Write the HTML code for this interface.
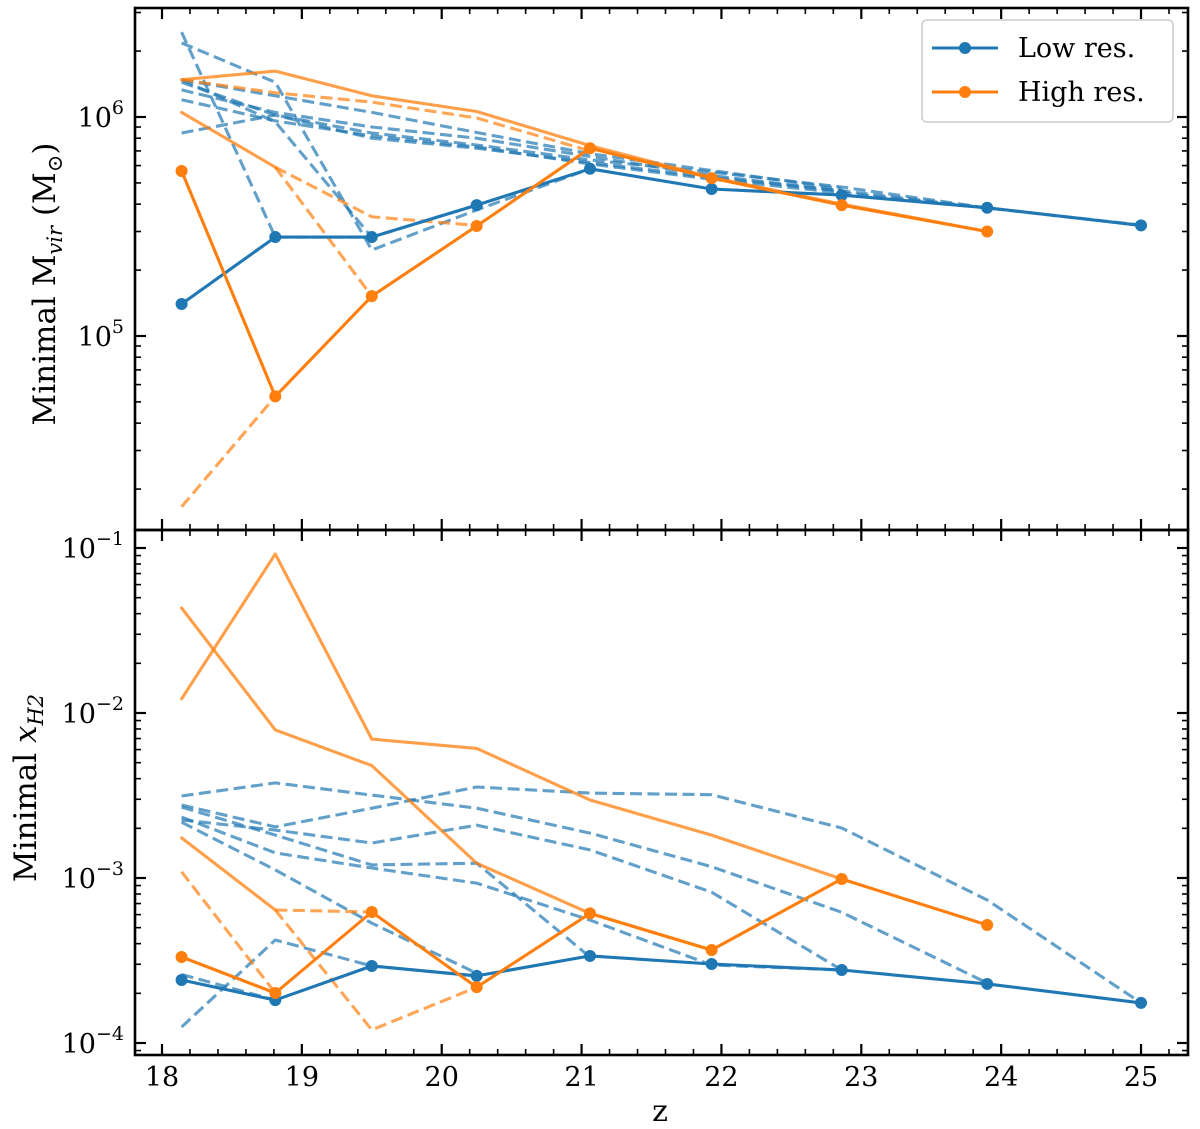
<!DOCTYPE html>
<html><head><meta charset="utf-8"><style>
html,body{margin:0;padding:0;background:#fff;}
svg{display:block;}
text{font-family:"DejaVu Serif","Liberation Serif",serif;fill:#000;}
</style></head><body>
<svg id="chart" width="1200" height="1129" viewBox="0 0 1200 1129" xmlns="http://www.w3.org/2000/svg">
<g id="grid"></g>
</svg>
<script>
// ---- data ----
const zVals = [18.14, 18.81, 19.5, 20.25, 21.06, 21.93, 22.86, 23.9, 25.0];
const xTicks = [18, 19, 20, 21, 22, 23, 24, 25];
// top panel: minimal Mvir
const lowResMvir = [1.4e5, 2.83e5, 2.83e5, 3.96e5, 5.8e5, 4.69e5, 4.4e5, 3.85e5, 3.2e5];
const highResMvir = [5.67e5, 5.3e4, 1.52e5, 3.18e5, 7.2e5, 5.26e5, 3.96e5, 3.0e5];
const lowDashMvir1 = [2.44e6, 2.83e5, 2.83e5, 3.96e5];
const lowDashMvir2 = [2.18e6, 1.44e6, 2.47e5, 3.76e5, 5.8e5];
const lowDashMvir3 = [1.48e6, 9.5e5, 2.83e5];
const lowDashMvir4 = [1.44e6, 1.02e6, 8.45e5, 7.45e5, 6.36e5, 5.6e5, 4.79e5, 3.84e5, 3.21e5];
const lowDashMvir5 = [1.33e6, 1.05e6, 9.0e5, 8.0e5, 6.6e5, 5.4e5, 4.6e5, 3.84e5];
const lowDashMvir6 = [1.2e6, 9.6e5, 8.2e5, 7.3e5, 6.1e5, 5.2e5, 4.5e5, 3.84e5];
const lowDashMvir7 = [8.45e5, 1.02e6, 8.0e5, 7.2e5, 6.2e5, 5.3e5, 4.6e5];
const lowDashMvir8 = [1.48e6, 1.25e6, 1.05e6, 8.5e5, 6.8e5, 5.7e5, 4.7e5];
const highFaintMvir1 = [1.48e6, 1.62e6, 1.25e6, 1.06e6, 7.4e5, 5.3e5, 4.0e5, 3.0e5];
const highDashMvir2 = [1.48e6, 1.29e6, 1.17e6, 9.9e5, 7.0e5];
const highFaintMvir3 = [1.05e6, 5.9e5];
const highDashMvir4 = [5.9e5, 3.5e5, 3.2e5];     // starts at index 1
const highDashMvir5 = [5.9e5, 1.52e5];           // starts at index 1
const highDashMvir6 = [1.66e4, 5.3e4];
// bottom panel: minimal xH2
const lowResXH2 = [2.41e-4, 1.82e-4, 2.93e-4, 2.55e-4, 3.37e-4, 3.01e-4, 2.77e-4, 2.28e-4, 1.75e-4];
const highResXH2 = [3.32e-4, 2.01e-4, 6.22e-4, 2.18e-4, 6.1e-4, 3.66e-4, 9.86e-4, 5.19e-4];
const lowDashX1 = [3.14e-3, 3.77e-3, 3.18e-3, 2.65e-3, 1.87e-3, 1.17e-3, 6.2e-4, 2.31e-4];
const lowDashX2 = [2.77e-3, 2.04e-3, 2.65e-3, 3.56e-3, 3.27e-3, 3.2e-3, 2.01e-3, 7.36e-4, 1.75e-4];
const lowDashX3 = [2.25e-3, 1.95e-3, 1.63e-3, 2.09e-3, 1.48e-3, 8.2e-4, 2.77e-4];
const lowDashX4 = [2.69e-3, 1.82e-3, 1.20e-3, 1.23e-3, 3.32e-4];
const lowDashX5 = [2.18e-3, 1.12e-3, 5.33e-4, 2.65e-4];
const lowDashX6 = [2.34e-3, 1.42e-3, 1.15e-3, 9.3e-4, 5.56e-4, 2.97e-4, 2.77e-4];
const lowDashX7 = [1.25e-4, 4.21e-4, 2.93e-4, 2.55e-4];
const lowDashX8 = [2.6e-4, 1.82e-4];
const highFaintX1 = [1.22e-2, 9.2e-2, 6.95e-3, 6.1e-3, 2.97e-3, 1.82e-3, 9.86e-4];
const highFaintX2 = [4.33e-2, 7.9e-3, 4.8e-3, 1.23e-3, 6.1e-4, 3.66e-4];
const highFaintX3 = [1.75e-3, 6.4e-4];
const highDashX4 = [6.4e-4, 6.22e-4];            // starts at index 1
const highDashX5 = [6.4e-4, 1.2e-4, 2.18e-4];    // starts at index 1
const highDashX6 = [1.09e-3, 2.01e-4];

// ---- layout ----
const NS = 'http://www.w3.org/2000/svg';
const svg = document.getElementById('chart');
const L = 135, R = 1188, T1 = 8, B1 = 530, T2 = 530, B2 = 1055;
const BLUE = '#1f77b4', ORANGE = '#ff7f0e';
function xS(z) { return 162 + (z - 18) * 139.86; }
function yTop(v) { return 117 - 219 * (Math.log10(v) - 6); }
function yBot(v) { return 548 - 165 * (Math.log10(v) + 1); }
function mk(tag, attrs, parent) {
  const e = document.createElementNS(NS, tag);
  for (const k in attrs) e.setAttribute(k, attrs[k]);
  (parent || svg).appendChild(e);
  return e;
}
const defs = mk('defs', {});
const c1 = mk('clipPath', {id: 'clipTop'}, defs); mk('rect', {x: L, y: T1, width: R - L, height: B1 - T1}, c1);
const c2 = mk('clipPath', {id: 'clipBot'}, defs); mk('rect', {x: L, y: T2, width: R - L, height: B2 - T2}, c2);
const gTop = mk('g', {'clip-path': 'url(#clipTop)'});


const gBot = mk('g', {'clip-path': 'url(#clipBot)'});



function series(g, vals, start, yf, color, style, name) {
  const pts = vals.map((v, i) => xS(zVals[start + i]).toFixed(1) + ',' + yf(v).toFixed(1)).join(' ');
  const p = mk('polyline', {points: pts, fill: 'none', stroke: color, 'stroke-width': 3.1,
    'stroke-linejoin': 'round', 'stroke-linecap': style === 'dash' ? 'butt' : 'round'}, g);
  if (style === 'dash') { p.setAttribute('stroke-dasharray', '12,5.5'); p.setAttribute('opacity', '0.7'); }
  if (style === 'faint') { p.setAttribute('opacity', '0.75'); }
  
  
  if (style === 'main') {
    vals.forEach((v, i) => {
      const c = mk('circle', {cx: xS(zVals[start + i]), cy: yf(v), r: 6, fill: color}, g);
      
      
    });
  }
}
[lowDashMvir1, lowDashMvir2, lowDashMvir3, lowDashMvir4, lowDashMvir5, lowDashMvir6, lowDashMvir7, lowDashMvir8]
  .forEach((a, i) => series(gTop, a, 0, yTop, BLUE, 'dash', 'low-res-halo-mvir-' + (i + 1)));
series(gTop, highFaintMvir1, 0, yTop, ORANGE, 'faint', 'high-res-halo-mvir-1');
series(gTop, highDashMvir2, 0, yTop, ORANGE, 'dash', 'high-res-halo-mvir-2');
series(gTop, highFaintMvir3, 0, yTop, ORANGE, 'faint', 'high-res-halo-mvir-3');
series(gTop, highDashMvir4, 1, yTop, ORANGE, 'dash', 'high-res-halo-mvir-4');
series(gTop, highDashMvir5, 1, yTop, ORANGE, 'dash', 'high-res-halo-mvir-5');
series(gTop, highDashMvir6, 0, yTop, ORANGE, 'dash', 'high-res-halo-mvir-6');
series(gTop, lowResMvir, 0, yTop, BLUE, 'main', 'low-res-mvir-line');
series(gTop, highResMvir, 0, yTop, ORANGE, 'main', 'high-res-mvir-line');
[lowDashX1, lowDashX2, lowDashX3, lowDashX4, lowDashX5, lowDashX6, lowDashX7, lowDashX8]
  .forEach((a, i) => series(gBot, a, 0, yBot, BLUE, 'dash', 'low-res-halo-xh2-' + (i + 1)));
series(gBot, highFaintX1, 0, yBot, ORANGE, 'faint', 'high-res-halo-xh2-1');
series(gBot, highFaintX2, 0, yBot, ORANGE, 'faint', 'high-res-halo-xh2-2');
series(gBot, highFaintX3, 0, yBot, ORANGE, 'faint', 'high-res-halo-xh2-3');
series(gBot, highDashX4, 1, yBot, ORANGE, 'dash', 'high-res-halo-xh2-4');
series(gBot, highDashX5, 1, yBot, ORANGE, 'dash', 'high-res-halo-xh2-5');
series(gBot, highDashX6, 0, yBot, ORANGE, 'dash', 'high-res-halo-xh2-6');
series(gBot, lowResXH2, 0, yBot, BLUE, 'main', 'low-res-xh2-line');
series(gBot, highResXH2, 0, yBot, ORANGE, 'main', 'high-res-xh2-line');

// ---- axes ----
function tick(x1, y1, x2, y2, w) { mk('line', {x1, y1, x2, y2, stroke: '#000', 'stroke-width': w || 1.6}); }
[[T1, B1], [T2, B2]].forEach(([t, b]) => {
  for (let z = 17.8; z <= 25.4; z += 0.2) {
    const zz = Math.round(z * 10) / 10; const x = xS(zz);
    if (x < L || x > R) continue;
    const major = Math.abs(zz - Math.round(zz)) < 1e-6;
    const len = major ? 11 : 6;
    tick(x, b, x, b - len, major ? 2.2 : 1.6); tick(x, t, x, t + len, major ? 2.2 : 1.6);
  }
});
function yTicks(yf, t, b, decades) {
  decades.forEach(d => {
    for (let m = 1; m < 10; m++) {
      const y = yf(m * Math.pow(10, d));
      if (y < t + 1 || y > b - 1) continue;
      const len = m === 1 ? 11 : 6;
      tick(L, y, L + len, y, m === 1 ? 2.2 : 1.6); tick(R, y, R - len, y, m === 1 ? 2.2 : 1.6);
    }
  });
}
yTicks(yTop, T1, B1, [4, 5, 6]);
yTicks(yBot, T2, B2, [-5, -4, -3, -2, -1]);
mk('rect', {x: L, y: T1, width: R - L, height: B1 - T1, fill: 'none', stroke: '#000', 'stroke-width': 2.6});
mk('rect', {x: L, y: T2, width: R - L, height: B2 - T2, fill: 'none', stroke: '#000', 'stroke-width': 2.6});

function label(x, y, html, name, anchor, size) {
  const t = mk('text', {x, y, 'font-size': size || 27, 'text-anchor': anchor || 'middle'});
  t.innerHTML = html;
  
  
  return t;
}
xTicks.forEach(z => label(xS(z), 1086, String(z), 'x-tick-label-' + z));
[6, 5].forEach(d =>
  label(124, yTop(Math.pow(10, d)) + 10, '10<tspan dy="-13" font-size="19">' + d + '</tspan>', 'y-tick-label-top-' + d, 'end'));
[-1, -2, -3, -4].forEach(d =>
  label(124, yBot(Math.pow(10, d)) + 10, '10<tspan dy="-13" font-size="19">\u2212' + (-d) + '</tspan>', 'y-tick-label-bottom-' + (-d), 'end'));
label(660, 1121, 'z', 'x-axis-title', 'middle', 30);
const yt1 = label(0, 0, 'Minimal M<tspan dy="7" font-size="21" font-style="italic">vir</tspan><tspan dy="-7"> (M</tspan><tspan dy="7" font-size="21">\u2299</tspan><tspan dy="-7">)</tspan>', 'y-axis-title-top', 'middle', 31);
yt1.setAttribute('transform', 'translate(55,284) rotate(-90)');
const yt2 = label(0, 0, 'Minimal <tspan font-style="italic">x</tspan><tspan dy="7" font-size="21" font-style="italic">H2</tspan>', 'y-axis-title-bottom', 'middle', 31);
yt2.setAttribute('transform', 'translate(36,788) rotate(-90)');

// ---- legend ----
const lg = mk('g', {});


mk('rect', {x: 922, y: 20, width: 251, height: 102, rx: 5, fill: '#fff', 'fill-opacity': 0.85, stroke: '#ccc', 'stroke-width': 1.5}, lg);
[['Low res.', BLUE, 48], ['High res.', ORANGE, 92]].forEach(([txt, col, y]) => {
  const e = mk('g', {}, lg);
  
  
  mk('line', {x1: 932, y1: y, x2: 998, y2: y, stroke: col, 'stroke-width': 3.1}, e);
  mk('circle', {cx: 965, cy: y, r: 6, fill: col}, e);
  const t = mk('text', {x: 1018, y: y + 9, 'font-size': 27}, e);
  t.textContent = txt;
});
</script>
</body></html>
